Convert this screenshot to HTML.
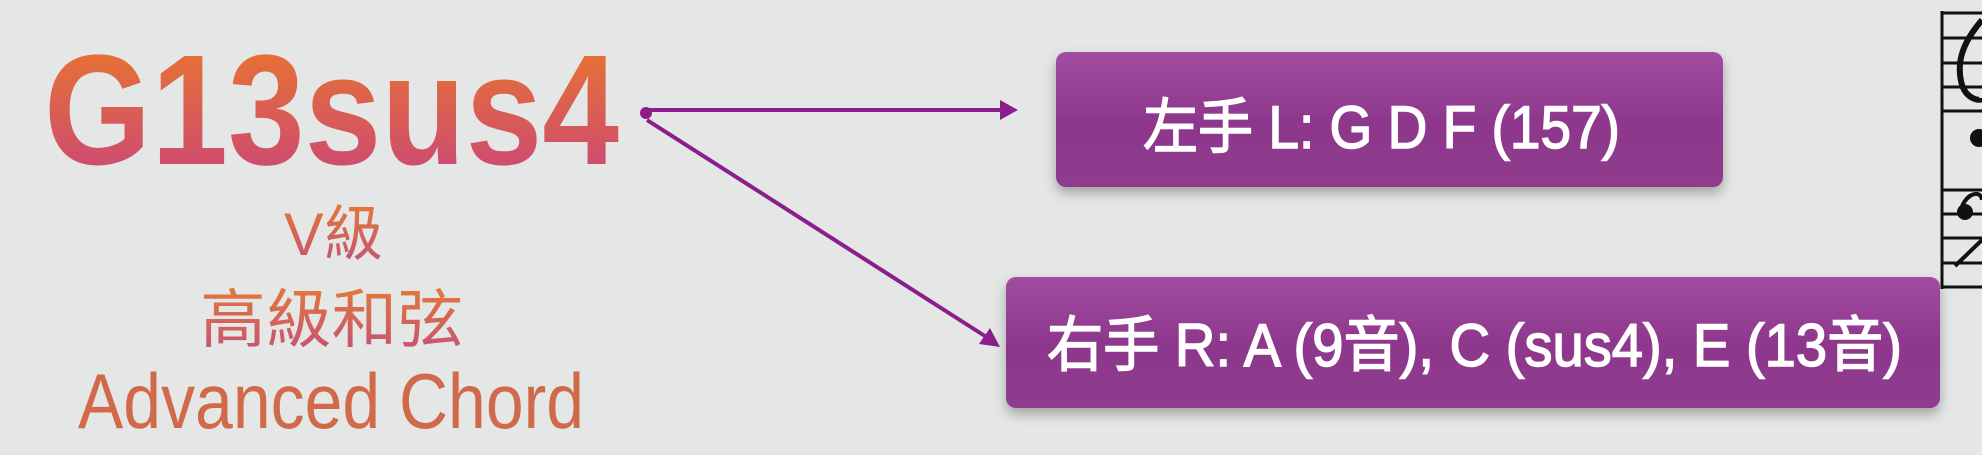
<!DOCTYPE html>
<html><head><meta charset="utf-8"><style>
html,body{margin:0;padding:0;background:#e5e7e6;}
svg{display:block}
</style></head><body>
<svg width="1982" height="455" viewBox="0 0 1982 455" xmlns="http://www.w3.org/2000/svg">
<defs>
<linearGradient id="tg" x1="0" y1="0" x2="0" y2="1">
<stop offset="0" stop-color="#ec7a26"/><stop offset="1" stop-color="#c8427f"/>
</linearGradient>
<linearGradient id="tg2" x1="0" y1="0" x2="0" y2="1">
<stop offset="0" stop-color="#e47a35"/><stop offset="1" stop-color="#c4507a"/>
</linearGradient>
<linearGradient id="bg" x1="0" y1="0" x2="0" y2="1">
<stop offset="0" stop-color="#a24ca2"/><stop offset="0.5" stop-color="#8d388c"/><stop offset="1" stop-color="#8f3b8e"/>
</linearGradient>
<filter id="sh" x="-10%" y="-20%" width="120%" height="160%"><feDropShadow dx="0" dy="6" stdDeviation="6" flood-color="#000" flood-opacity="0.3"/></filter>
</defs>
<rect width="1982" height="455" fill="#e5e7e6"/>
<text x="44" y="164" textLength="575" lengthAdjust="spacingAndGlyphs" font-family="Liberation Sans, sans-serif" font-weight="bold" font-size="157" fill="url(#tg)">G13sus4</text>
<text x="284" y="255" textLength="99" lengthAdjust="spacingAndGlyphs" font-family="Liberation Sans, Noto Sans CJK TC, sans-serif" font-size="60" fill="url(#tg2)">V級</text>
<text x="200" y="342" textLength="263" lengthAdjust="spacingAndGlyphs" font-family="Liberation Sans, Noto Sans CJK TC, sans-serif" font-size="64" fill="url(#tg2)">高級和弦</text>
<text x="78" y="428" textLength="506" lengthAdjust="spacingAndGlyphs" font-family="Liberation Sans, sans-serif" font-size="78" fill="#d06a4a">Advanced Chord</text>
<g stroke="#8a1e8c" stroke-width="4" fill="#8a1e8c">
<line x1="645" y1="110" x2="1002" y2="110"/>
<polygon points="1000,100 1018,110 1000,120" stroke="none"/>
<line x1="647" y1="120" x2="988" y2="338"/>
<polygon points="979,344 1000,347 990,328" stroke="none"/>
<circle cx="646" cy="113" r="6" stroke="none"/>
</g>
<rect x="1056" y="52" width="667" height="135" rx="10" fill="url(#bg)" filter="url(#sh)"/>
<text x="1143" y="148" textLength="477" lengthAdjust="spacingAndGlyphs" font-family="Liberation Sans, Noto Sans CJK TC, sans-serif" font-size="60" fill="#fff" stroke="#fff" stroke-width="1.5">左手 L: G D F (157)</text>
<rect x="1006" y="277" width="934" height="131" rx="10" fill="url(#bg)" filter="url(#sh)"/>
<text x="1047" y="366" textLength="855" lengthAdjust="spacingAndGlyphs" font-family="Liberation Sans, Noto Sans CJK TC, sans-serif" font-size="60" fill="#fff" stroke="#fff" stroke-width="1.5">右手 R: A (9音),  C (sus4), E (13音)</text>
<g stroke="#111" stroke-width="3">
<line x1="1942" y1="11" x2="1942" y2="289"/>
<line x1="1942" y1="13" x2="1982" y2="13"/>
<line x1="1942" y1="38" x2="1982" y2="38"/>
<line x1="1942" y1="63" x2="1982" y2="63"/>
<line x1="1942" y1="87" x2="1982" y2="87"/>
<line x1="1942" y1="111" x2="1982" y2="111"/>
<line x1="1942" y1="190" x2="1982" y2="190"/>
<line x1="1942" y1="214" x2="1982" y2="214"/>
<line x1="1942" y1="238" x2="1982" y2="238"/>
<line x1="1942" y1="263" x2="1982" y2="263"/>
<line x1="1942" y1="287" x2="1982" y2="287"/>
</g>
<path d="M1982 20 C1965 40 1955 60 1962 85 C1967 100 1982 102 1982 98" stroke="#111" stroke-width="6" fill="none"/>
<circle cx="1979" cy="138" r="9" fill="#111"/>
<circle cx="1965" cy="212" r="8" fill="#111"/>
<path d="M1962 206 C1970 190 1982 192 1982 200 M1982 240 L1955 266" stroke="#111" stroke-width="4" fill="none"/>
</svg>
</body></html>
